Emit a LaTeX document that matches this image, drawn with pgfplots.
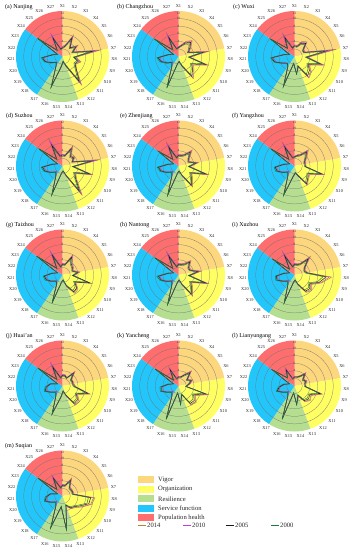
\documentclass[border=0pt]{standalone}
\usepackage{pgfplots}
\usepackage{pgfplotstable}
\usepackage{fontspec}
\setmainfont{Liberation Serif}
\usepgfplotslibrary{polar}
\pgfplotsset{compat=1.18}
\definecolor{cVig}{RGB}{253,215,125}
\definecolor{cOrg}{RGB}{255,255,100}
\definecolor{cRes}{RGB}{181,222,145}
\definecolor{cSer}{RGB}{35,198,250}
\definecolor{cPop}{RGB}{255,110,110}
\definecolor{l14}{RGB}{176,132,50}
\definecolor{l10}{RGB}{190,60,225}
\definecolor{l05}{RGB}{25,25,25}
\definecolor{l00}{RGB}{30,120,60}
\pgfplotsset{radar/.style={
  width=93pt,height=91pt,scale only axis,anchor=center,
  xmin=-270,xmax=90,ymin=0,ymax=12,
  clip=false,axis on top=true,
  grid=none,ymajorgrids=true,
  y grid style={draw=black!55,line width=0.25pt},
  axis line style={draw=none},
  major tick length=0pt,
  ytick={2,4,6,8,10},yticklabels={},
  xtick=\empty,
}}
\newcommand{\sectors}{%
\addplot[fill=cVig,draw=none] coordinates {(90,0)(90,12)(85,12)(80,12)(75,12)(70,12)(65,12)(60,12)(55,12)(50,12)(45,12)(40,12)(35,12)(30,12)(25,12)(20,12)(15,12)(10,12)(10,0)};
\addplot[fill=cOrg,draw=none] coordinates {(10,0)(10,12)(5,12)(0,12)(-5,12)(-10,12)(-15,12)(-20,12)(-25,12)(-30,12)(-35,12)(-40,12)(-45,12)(-50,12)(-55,12)(-60,12)(-65,12)(-70,12)(-70,0)};
\addplot[fill=cRes,draw=none] coordinates {(-70,0)(-70,12)(-75,12)(-80,12)(-85,12)(-90,12)(-95,12)(-100,12)(-105,12)(-110,12)(-115,12)(-120,12)(-123.3,12)(-123.3,0)};
\addplot[fill=cSer,draw=none] coordinates {(-123.3,0)(-123.3,12)(-130,12)(-135,12)(-140,12)(-145,12)(-150,12)(-155,12)(-160,12)(-165,12)(-170,12)(-175,12)(-180,12)(-185,12)(-190,12)(-195,12)(-200,12)(-205,12)(-210,12)(-216.7,12)(-216.7,0)};
\addplot[fill=cPop,draw=none] coordinates {(-216.7,0)(-216.7,12)(-220,12)(-225,12)(-230,12)(-235,12)(-240,12)(-245,12)(-250,12)(-255,12)(-260,12)(-265,12)(-270,12)(-270,0)};
}
\newcommand{\rl}[2]{\node[font=\fontsize{3.4}{4}\selectfont,inner sep=0pt,text=black!80] at (axis cs:90,#1) {#2};}
\newcommand{\xl}[2]{\node[font=\fontsize{4.4}{5}\selectfont,inner sep=0pt,text=black!85] at (axis cs:#1,13.35) {#2};}
\newcommand{\rlabels}{%
\rl{11.5}{12}\rl{10}{10}\rl{8}{8}\rl{6}{6}\rl{4}{4}%
\xl{90}{X1}\xl{76.667}{X2}\xl{63.333}{X3}\xl{50}{X4}\xl{36.667}{X5}\xl{23.333}{X6}\xl{10}{X7}\xl{-3.333}{X8}\xl{-16.667}{X9}%
\xl{-30}{X10}\xl{-43.333}{X11}\xl{-56.667}{X12}\xl{-70}{X13}\xl{-83.333}{X14}\xl{-96.667}{X15}\xl{-110}{X16}\xl{-123.333}{X17}\xl{-136.667}{X18}%
\xl{-150}{X19}\xl{-163.333}{X20}\xl{-176.667}{X21}\xl{-190}{X22}\xl{-203.333}{X23}\xl{-216.667}{X24}\xl{-230}{X25}\xl{-243.333}{X26}\xl{-256.667}{X27}%
}
% #1 cx, #2 cy (from top), #3 table, #4 title x, #5 title
\newcommand{\panel}[5]{%
\begin{polaraxis}[radar,at={(#1pt,550pt-#2pt)}]
\sectors
\addplot[l14,line width=0.45pt] table[x expr=90-(\thisrow{i}-1)*13.3333,y=a] {#3};
\addplot[l10,line width=0.4pt] table[x expr=90-(\thisrow{i}-1)*13.3333,y=b] {#3};
\addplot[l05,line width=0.45pt] table[x expr=90-(\thisrow{i}-1)*13.3333,y=c] {#3};
\addplot[l00,line width=0.45pt] table[x expr=90-(\thisrow{i}-1)*13.3333,y=d] {#3};
\rlabels
\end{polaraxis}
\node[anchor=west,inner sep=0pt,font=\fontsize{6}{7}\selectfont] at (#4pt,550pt-#2pt+49.5pt) {#5};
}
\pgfplotstableread{
i a b c d
1 2.5 2.7 2.3 2.1
2 3.0 3.1 2.8 2.6
3 6.3 5.9 5.4 4.8
4 3.0 3.2 3.0 2.7
5 5.0 4.6 4.3 3.9
6 3.0 3.0 2.8 2.6
7 10.0 9.2 8.0 7.2
8 3.5 3.3 3.0 2.8
9 5.0 4.8 4.3 3.9
10 4.0 3.8 3.7 3.4
11 5.0 4.7 4.9 4.4
12 9.0 8.6 7.9 7.2
13 3.0 2.8 2.6 2.3
14 1.5 1.4 1.3 1.2
15 3.0 2.8 2.6 2.5
16 8.4 8.2 8.5 8.7
17 3.0 2.9 3.1 3.0
18 2.0 2.1 2.2 2.3
19 3.0 3.1 3.3 3.5
20 4.5 4.4 4.7 4.9
21 5.0 4.8 5.2 5.5
22 2.5 2.4 2.6 2.8
23 1.5 1.5 1.4 1.4
24 8.0 7.8 8.0 8.1
25 2.0 2.2 2.1 2.3
26 6.8 6.6 5.4 4.6
27 2.0 2.2 2.0 1.9
28 2.5 2.7 2.3 2.1
}\ta
\pgfplotstableread{
i a b c d
1 2.5 2.6 2.4 2.2
2 3.0 3.2 2.9 2.7
3 4.5 4.3 4.0 3.6
4 5.5 5.2 4.9 4.4
5 4.0 3.8 3.6 3.2
6 3.0 2.9 2.7 2.5
7 8.0 7.3 6.5 5.8
8 3.0 2.9 2.7 2.5
9 8.0 7.7 7.2 6.6
10 4.5 4.2 3.9 3.6
11 5.5 5.2 5.0 4.5
12 7.0 6.7 6.2 5.7
13 3.0 2.8 2.6 2.4
14 1.5 1.4 1.3 1.3
15 2.0 1.9 1.8 1.8
16 8.7 8.5 8.7 8.9
17 3.0 3.0 3.1 3.2
18 2.0 2.1 2.3 2.4
19 3.0 3.1 3.4 3.6
20 4.5 4.4 4.7 5.0
21 5.0 4.9 5.3 5.6
22 2.5 2.5 2.7 2.9
23 1.5 1.5 1.4 1.4
24 7.6 7.5 7.7 7.8
25 2.5 2.4 2.3 2.2
26 7.0 6.7 5.6 4.8
27 2.0 2.2 2.1 2.0
28 2.5 2.6 2.4 2.2
}\tb
\pgfplotstableread{
i a b c d
1 3.0 3.1 2.8 2.6
2 3.0 2.9 2.7 2.5
3 4.5 4.2 3.9 3.5
4 5.0 4.8 4.5 4.1
5 3.0 2.9 2.7 2.5
6 3.0 2.9 2.7 2.6
7 11.0 10.0 8.5 7.6
8 3.5 3.3 3.0 2.8
9 8.0 7.7 7.1 6.6
10 4.5 4.3 4.0 3.7
11 6.0 5.7 5.3 4.8
12 6.8 6.6 6.1 5.6
13 3.0 2.8 2.7 2.5
14 4.7 4.5 4.7 4.6
15 2.0 1.9 1.8 1.8
16 8.2 8.1 8.3 8.4
17 3.0 3.0 3.1 3.2
18 2.5 2.5 2.6 2.7
19 3.0 3.2 3.5 3.7
20 5.0 4.9 5.2 5.4
21 5.8 5.6 6.0 6.2
22 2.5 2.6 2.8 3.0
23 1.5 1.5 1.4 1.4
24 7.6 7.5 7.7 7.8
25 3.0 2.9 2.8 2.7
26 6.8 6.6 5.6 4.9
27 2.5 2.6 2.3 2.2
28 3.0 3.1 2.8 2.6
}\tc
\pgfplotstableread{
i a b c d
1 3.0 3.1 2.9 2.6
2 3.0 3.1 2.8 2.6
3 6.0 5.6 5.1 4.6
4 3.5 3.4 3.2 2.9
5 4.0 3.8 3.6 3.3
6 3.0 2.9 2.7 2.6
7 9.8 9.0 7.8 7.0
8 3.0 2.9 2.7 2.5
9 8.0 7.8 7.3 6.7
10 4.0 3.9 3.6 3.3
11 5.0 4.7 4.6 4.2
12 9.2 8.8 8.0 7.3
13 3.0 2.8 2.6 2.4
14 1.5 1.4 1.3 1.3
15 2.0 1.9 1.8 1.8
16 7.9 7.8 8.0 8.2
17 3.0 3.0 3.1 3.2
18 2.0 2.1 2.3 2.4
19 3.0 3.2 3.4 3.6
20 4.5 4.4 4.7 5.0
21 5.0 4.8 5.2 5.5
22 2.5 2.5 2.7 2.9
23 1.5 1.5 1.4 1.4
24 7.5 7.4 7.6 7.7
25 2.5 2.4 2.3 2.2
26 8.0 7.6 6.2 5.2
27 3.0 3.0 2.7 2.4
28 3.0 3.1 2.9 2.6
}\td
\pgfplotstableread{
i a b c d
1 3.0 3.2 2.8 2.5
2 3.0 3.0 2.8 2.6
3 3.5 3.4 3.2 2.9
4 5.5 5.2 4.8 4.3
5 3.5 3.4 3.2 3.0
6 3.0 2.9 2.7 2.6
7 5.3 5.0 4.6 4.2
8 3.0 2.9 2.7 2.5
9 8.0 7.8 7.3 6.8
10 4.0 3.9 3.6 3.3
11 5.0 4.8 4.6 4.2
12 6.6 6.3 6.0 5.5
13 3.0 2.8 2.6 2.4
14 1.5 1.4 1.3 1.3
15 2.0 1.9 1.8 1.8
16 8.0 7.9 8.1 8.3
17 3.0 3.0 3.1 3.2
18 2.0 2.1 2.3 2.4
19 3.0 3.1 3.4 3.6
20 4.5 4.4 4.7 5.0
21 5.0 4.8 5.2 5.5
22 2.5 2.5 2.7 2.9
23 1.5 1.5 1.4 1.4
24 6.5 6.4 6.6 6.7
25 2.5 2.4 2.3 2.2
26 7.0 6.8 5.6 4.8
27 2.5 2.6 2.3 2.1
28 3.0 3.2 2.8 2.5
}\te
\pgfplotstableread{
i a b c d
1 2.5 2.6 2.4 2.2
2 3.0 3.0 2.8 2.6
3 3.5 3.4 3.2 2.9
4 5.6 5.3 4.9 4.4
5 4.0 3.8 3.6 3.3
6 3.0 3.0 2.8 2.6
7 3.0 2.9 2.7 2.5
8 3.0 2.9 2.8 2.6
9 8.0 7.8 7.3 6.8
10 4.5 4.3 4.0 3.7
11 5.0 4.8 4.7 4.3
12 6.0 5.8 5.6 5.2
13 3.0 2.9 2.7 2.5
14 2.0 1.9 1.8 1.7
15 3.0 2.9 2.7 2.6
16 8.0 7.9 8.1 8.3
17 3.0 3.0 3.1 3.2
18 2.0 2.1 2.3 2.4
19 3.0 3.1 3.4 3.6
20 4.5 4.4 4.7 5.0
21 4.8 4.7 5.0 5.3
22 2.5 2.5 2.7 2.9
23 1.5 1.5 1.4 1.4
24 7.5 7.4 7.6 7.7
25 2.5 2.4 2.3 2.2
26 7.0 6.8 5.6 4.8
27 2.5 2.6 2.3 2.1
28 2.5 2.6 2.4 2.2
}\tf
\pgfplotstableread{
i a b c d
1 3.0 3.1 2.8 2.6
2 3.0 3.0 2.8 2.6
3 6.0 5.7 5.2 4.7
4 4.0 3.8 3.6 3.3
5 3.5 3.4 3.2 3.0
6 3.0 2.9 2.7 2.6
7 4.6 4.4 4.0 3.7
8 3.0 2.9 2.7 2.5
9 7.3 7.1 7.6 6.6
10 4.0 3.8 3.6 3.3
11 5.5 5.2 5.0 4.5
12 5.8 5.5 5.3 4.9
13 3.5 3.3 3.1 2.8
14 1.5 1.4 1.3 1.3
15 2.0 1.9 1.8 1.8
16 7.7 7.6 7.8 8.0
17 2.5 2.6 2.7 2.8
18 2.0 2.1 2.3 2.4
19 3.0 3.1 3.3 3.5
20 4.2 4.1 4.4 4.7
21 4.5 4.4 4.7 5.0
22 2.5 2.5 2.7 2.9
23 1.5 1.5 1.4 1.4
24 8.2 8.1 8.3 8.4
25 2.5 2.4 2.3 2.2
26 7.2 7.0 5.8 5.0
27 2.5 2.6 2.3 2.1
28 3.0 3.1 2.8 2.6
}\tg
\pgfplotstableread{
i a b c d
1 3.0 3.1 2.8 2.6
2 3.0 3.0 2.8 2.6
3 3.5 3.4 3.1 2.8
4 5.0 4.8 4.5 4.0
5 3.5 3.4 3.2 3.0
6 3.5 3.4 3.2 3.0
7 6.0 5.6 5.1 4.6
8 3.0 2.9 2.7 2.5
9 8.0 7.8 7.3 6.8
10 4.0 3.9 3.6 3.3
11 5.0 4.8 4.6 4.2
12 6.7 6.4 6.0 5.5
13 3.0 2.8 2.6 2.4
14 1.5 1.4 1.3 1.3
15 2.0 1.9 1.8 1.8
16 8.0 7.9 8.1 8.3
17 3.0 3.0 3.1 3.2
18 2.0 2.1 2.3 2.4
19 3.0 3.1 3.4 3.6
20 4.5 4.4 4.7 5.0
21 5.0 4.8 5.2 5.6
22 2.5 2.5 2.7 2.9
23 1.5 1.5 1.4 1.4
24 7.5 7.4 7.6 7.7
25 2.5 2.4 2.3 2.2
26 7.0 6.8 5.6 4.8
27 2.5 2.6 2.3 2.1
28 3.0 3.1 2.8 2.6
}\th
\pgfplotstableread{
i a b c d
1 3.0 3.1 2.8 2.6
2 3.0 3.0 2.8 2.6
3 3.5 3.4 3.2 2.9
4 6.4 6.0 5.5 5.0
5 3.5 3.4 3.2 3.0
6 3.0 2.9 2.7 2.6
7 3.5 3.4 3.2 2.9
8 9.6 9.0 8.2 7.4
9 7.3 7.1 6.7 6.2
10 5.0 4.8 4.5 4.1
11 6.0 5.7 5.3 4.9
12 5.5 5.3 5.1 4.7
13 3.0 2.8 2.6 2.4
14 1.5 1.4 1.3 1.3
15 2.0 1.9 1.8 1.8
16 7.6 7.5 7.7 7.9
17 3.0 3.0 3.1 3.2
18 2.0 2.1 2.3 2.4
19 3.0 3.1 3.3 3.5
20 4.5 4.4 4.7 5.0
21 4.5 4.4 4.7 5.0
22 2.5 2.5 2.7 2.9
23 1.5 1.5 1.4 1.4
24 7.0 6.9 7.1 7.2
25 2.0 2.1 2.0 1.9
26 7.0 6.8 5.6 4.8
27 2.5 2.6 2.3 2.1
28 3.0 3.1 2.8 2.6
}\ti
\pgfplotstableread{
i a b c d
1 3.0 3.1 2.8 2.6
2 3.0 3.0 2.8 2.6
3 2.5 2.5 2.3 2.2
4 5.0 4.8 4.4 4.0
5 3.0 2.9 2.7 2.5
6 3.0 2.9 2.8 2.6
7 3.0 2.9 2.7 2.5
8 3.5 3.4 3.2 2.9
9 7.4 7.2 6.8 6.3
10 4.5 4.3 4.1 3.8
11 6.0 5.7 5.3 4.9
12 6.0 5.8 5.5 5.1
13 3.0 2.8 2.6 2.4
14 1.5 1.4 1.3 1.3
15 3.0 2.9 2.7 2.6
16 7.7 7.6 7.8 8.0
17 3.0 3.0 3.1 3.2
18 2.0 2.1 2.3 2.4
19 3.0 3.1 3.3 3.5
20 4.5 4.4 4.7 4.9
21 4.0 3.9 4.2 4.5
22 3.0 3.0 3.2 3.3
23 1.5 1.5 1.4 1.4
24 7.7 7.6 7.8 7.9
25 2.5 2.4 2.3 2.2
26 7.0 6.8 5.6 4.8
27 2.5 2.6 2.3 2.1
28 3.0 3.1 2.8 2.6
}\tj
\pgfplotstableread{
i a b c d
1 2.5 2.6 2.4 2.2
2 2.5 2.6 2.4 2.2
3 3.5 3.4 3.2 2.9
4 5.2 5.0 4.6 4.2
5 3.0 2.9 2.7 2.5
6 4.0 3.8 3.6 3.3
7 3.0 2.9 2.7 2.5
8 2.0 2.0 1.9 1.8
9 8.0 7.8 7.3 6.8
10 5.0 4.8 4.5 4.2
11 6.3 6.0 5.6 5.1
12 6.0 5.8 5.5 5.1
13 2.5 2.4 2.3 2.2
14 4.8 4.7 4.9 4.8
15 2.0 1.9 1.8 1.8
16 9.2 9.1 9.3 9.4
17 3.0 3.0 3.1 3.2
18 2.0 2.1 2.3 2.4
19 3.0 3.1 3.3 3.5
20 4.5 4.4 4.7 4.9
21 4.3 4.2 4.5 4.8
22 2.5 2.5 2.7 2.9
23 1.5 1.5 1.4 1.4
24 7.4 7.3 7.5 7.6
25 2.0 2.1 2.0 1.9
26 5.6 5.4 4.8 4.2
27 2.0 2.1 1.9 1.8
28 2.5 2.6 2.4 2.2
}\tk
\pgfplotstableread{
i a b c d
1 2.5 2.6 2.4 2.2
2 2.5 2.6 2.4 2.2
3 3.0 3.0 2.8 2.6
4 4.6 4.4 4.1 3.7
5 3.0 2.9 2.7 2.5
6 3.5 3.4 3.2 3.0
7 3.0 2.9 2.7 2.5
8 3.0 2.9 2.8 2.6
9 7.5 7.3 6.9 6.4
10 5.0 4.8 4.5 4.2
11 5.6 5.4 5.0 4.6
12 5.0 4.8 4.6 4.3
13 3.0 2.8 2.6 2.4
14 4.9 4.8 5.0 4.9
15 2.0 1.9 1.8 1.8
16 9.2 9.1 9.3 9.4
17 3.0 3.0 3.1 3.2
18 2.0 2.1 2.3 2.4
19 3.0 3.1 3.3 3.5
20 4.5 4.4 4.7 4.9
21 3.7 3.6 3.9 4.2
22 2.5 2.5 2.7 2.9
23 1.5 1.5 1.4 1.4
24 7.0 6.9 7.1 7.2
25 3.0 2.9 2.8 2.7
26 5.5 5.3 4.7 4.1
27 2.0 2.1 1.9 1.8
28 2.5 2.6 2.4 2.2
}\tl
\pgfplotstableread{
i a b c d
1 3.0 3.1 2.8 2.6
2 3.0 3.0 2.8 2.6
3 5.3 5.0 4.6 4.2
4 3.0 3.0 2.8 2.6
5 3.0 2.9 2.7 2.5
6 3.0 2.9 2.8 2.6
7 3.0 2.9 2.7 2.5
8 8.4 8.0 7.3 6.7
9 7.8 7.6 7.1 6.6
10 5.8 5.6 5.2 4.8
11 4.5 4.3 4.1 3.8
12 4.0 3.9 3.7 3.4
13 3.0 2.8 2.6 2.4
14 9.0 8.9 9.1 9.2
15 3.0 2.9 2.8 2.7
16 8.8 8.7 8.9 9.0
17 3.0 3.0 3.1 3.2
18 2.0 2.1 2.3 2.4
19 3.0 3.1 3.3 3.5
20 4.5 4.4 4.7 4.9
21 4.0 3.9 4.2 4.5
22 3.0 3.0 3.2 3.3
23 1.5 1.5 1.4 1.4
24 7.7 7.6 7.8 7.9
25 2.5 2.4 2.3 2.2
26 6.2 6.0 5.2 4.5
27 2.5 2.6 2.3 2.1
28 3.0 3.1 2.8 2.6
}\tm
\begin{document}
\begin{tikzpicture}[x=1pt,y=1pt]
\path[use as bounding box] (0,0) rectangle (351,550);
\panel{62.5}{56.5}{\ta}{5}{(a) Nanjing}
\panel{178.5}{56.5}{\tb}{117}{(b) Changzhou}
\panel{294.5}{56.5}{\tc}{233}{(c) Wuxi}
\panel{62.5}{166}{\td}{6}{(d) Suzhou}
\panel{178.5}{166}{\te}{120}{(e) Zhenjiang}
\panel{294.5}{166}{\tf}{232}{(f) Yangzhou}
\panel{62.5}{275}{\tg}{6}{(g) Taizhou}
\panel{178.5}{275}{\th}{120}{(h) Nantong}
\panel{294.5}{275}{\ti}{232}{(i) Xuzhou}
\panel{62.5}{386}{\tj}{6}{(j) Huai'an}
\panel{178.5}{386}{\tk}{117}{(k) Yancheng}
\panel{294.5}{386}{\tl}{232}{(l) Lianyungang}
\panel{62.5}{496}{\tm}{5}{(m) Suqian}
% legend
\fill[cVig] (138,66.5) rectangle (154,73.5);
\fill[cOrg] (138,57) rectangle (154,64);
\fill[cRes] (138,47.5) rectangle (154,54.5);
\fill[cSer] (138,38) rectangle (154,45);
\fill[cPop] (138,28.5) rectangle (154,35.5);
\begin{scope}[every node/.style={anchor=west,inner sep=0pt,font=\fontsize{6.6}{8}\selectfont,text=black!85}]
\node at (158,70) {Vigor};
\node at (158,60.5) {Organization};
\node at (158,51) {Resilience};
\node at (158,41.5) {Service function};
\node at (158,32) {Population health};
\draw[l14,line width=0.7pt] (138,25)--(146,25);
\node at (147,25) {2014};
\draw[l10,line width=0.7pt] (183,25)--(191,25);
\node at (192,25) {2010};
\draw[l05,line width=0.7pt] (226,25)--(234,25);
\node at (235,25) {2005};
\draw[l00,line width=0.7pt] (271,25)--(279,25);
\node at (280,25) {2000};
\end{scope}
\end{tikzpicture}
\end{document}
